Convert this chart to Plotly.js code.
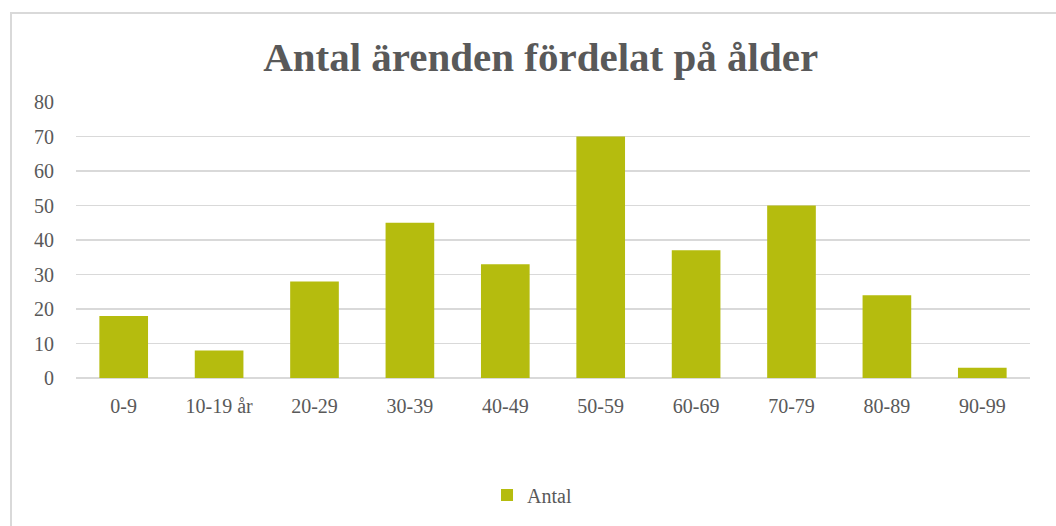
<!DOCTYPE html>
<html>
<head>
<meta charset="utf-8">
<script src="https://cdn.plot.ly/plotly-3.0.1.min.js"></script>
<style>
  html, body { margin: 0; padding: 0; background: #fff; }
  #wrap { position: relative; width: 1056px; height: 526px; overflow: hidden; }
  #chart { position: absolute; left: 0; top: 0; width: 1056px; height: 526px; }
  #frame { position: absolute; left: 10px; top: 12px; width: 1100px; height: 600px;
           border-left: 2px solid #d9d9d9; border-top: 2px solid #d9d9d9; pointer-events: none; }
</style>
</head>
<body>
<div id="wrap">
  <div id="chart"></div>
  <div id="frame"></div>
</div>
<script>
const categories = ["0-9", "10-19 år", "20-29", "30-39", "40-49", "50-59", "60-69", "70-79", "80-89", "90-99"];
const antal = [18, 8, 28, 45, 33, 70, 37, 50, 24, 3];
const yTicks = [0, 10, 20, 30, 40, 50, 60, 70, 80];
const seriesName = "Antal";
const chartTitle = "Antal ärenden fördelat på ålder";

const serif = "'Liberation Serif', 'DejaVu Serif', serif";

const trace = {
  type: "bar",
  x: categories,
  y: antal,
  name: seriesName,
  marker: { color: "#b5bc0e", line: { width: 0 } },
  hoverinfo: "x+y"
};

const layout = {
  width: 1056,
  height: 526,
  paper_bgcolor: "rgba(0,0,0,0)",
  plot_bgcolor: "rgba(0,0,0,0)",
  margin: { l: 76, r: 26, t: 102, b: 148 },
  bargap: 0.49,
  title: {
    text: "<b>" + chartTitle + "</b>",
    font: { family: serif, size: 41, color: "#595959" },
    x: 0.512, xanchor: "center",
    y: 0.893, yanchor: "middle", yref: "container"
  },
  xaxis: {
    type: "category",
    tickfont: { family: serif, size: 20, color: "#595959" },
    showgrid: false,
    showline: false,
    ticks: "outside",
    ticklen: 10,
    tickcolor: "rgba(0,0,0,0)",
    zeroline: false
  },
  yaxis: {
    range: [0, 80],
    tickvals: yTicks,
    tickfont: { family: serif, size: 20, color: "#595959" },
    gridcolor: "#d9d9d9",
    gridwidth: 1.5,
    zeroline: true,
    zerolinecolor: "#d9d9d9",
    zerolinewidth: 1.5,
    showline: false,
    ticks: "outside",
    ticklen: 17,
    tickcolor: "rgba(0,0,0,0)"
  },
  showlegend: true,
  legend: {
    orientation: "h",
    x: 0.478, xanchor: "center",
    y: -0.424, yanchor: "middle",
    font: { family: serif, size: 20, color: "#595959" },
    itemwidth: 30
  }
};

Plotly.newPlot("chart", [trace], layout, { displayModeBar: false, staticPlot: true });
</script>
</body>
</html>
